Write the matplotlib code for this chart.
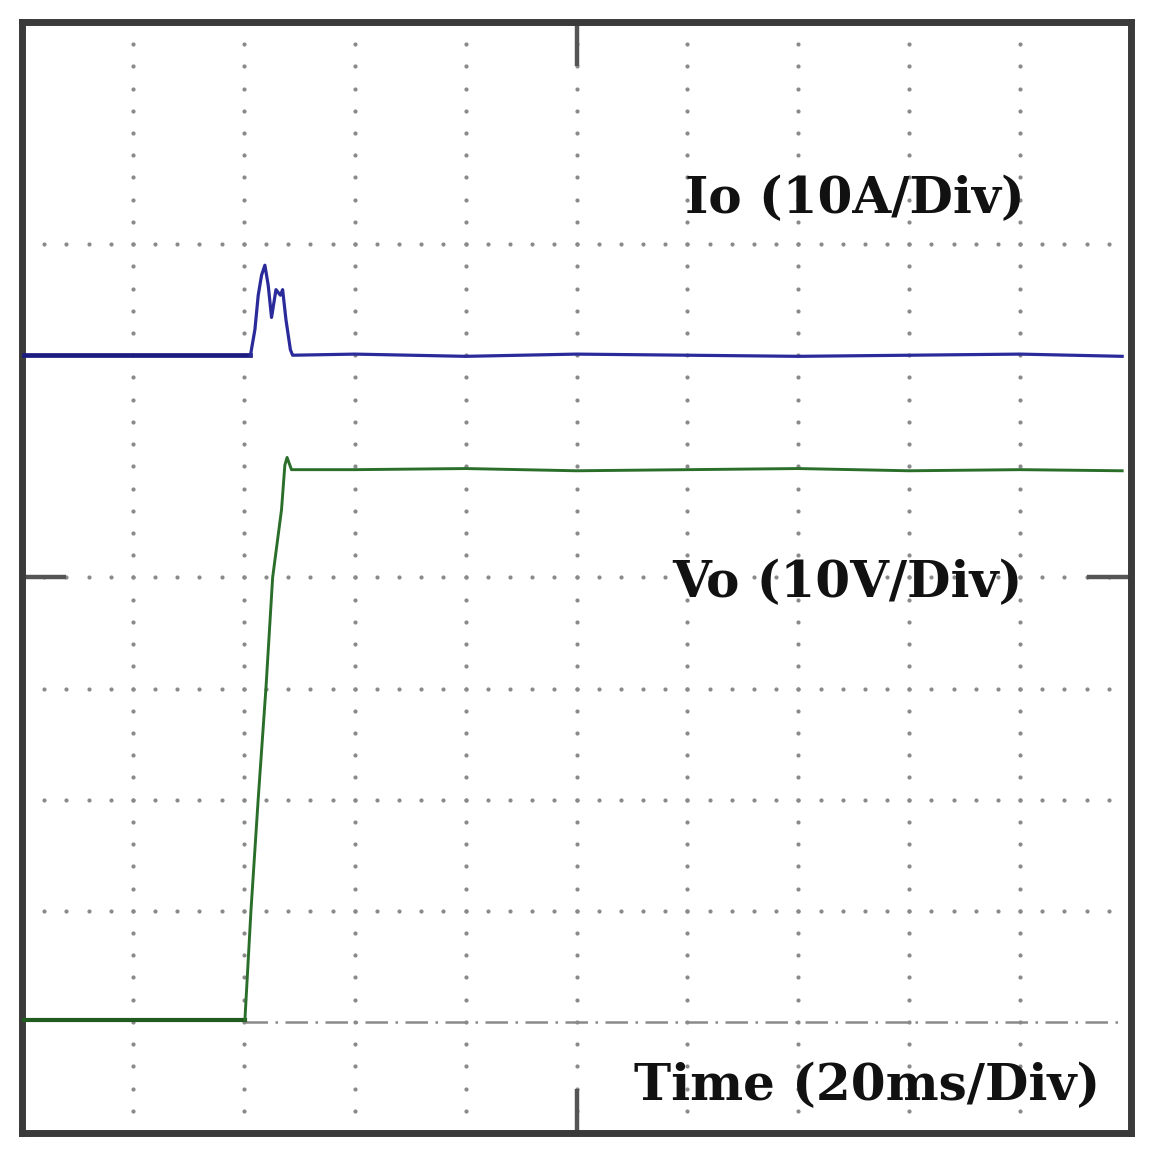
import numpy as np
import matplotlib.pyplot as plt

# screen is 10 x 10 divisions; values below are in divisions
io_t = [0.02, 2.06, 2.10, 2.13, 2.16, 2.19, 2.22, 2.25, 2.29, 2.33, 2.35, 2.38, 2.42, 2.44,
        3.0, 4.0, 5.0, 6.0, 7.0, 8.0, 9.0, 9.92]
io_v = [7.0, 7.0, 7.23, 7.54, 7.72, 7.81, 7.63, 7.34, 7.59, 7.54, 7.59, 7.32, 7.05, 7.0,
        7.01, 6.99, 7.01, 7.0, 6.99, 7.0, 7.01, 6.99]

vo_t = [0.02, 2.01, 2.065, 2.13, 2.20, 2.26, 2.34, 2.37, 2.39, 2.43,
        3.0, 4.0, 5.0, 6.0, 7.0, 8.0, 9.0, 9.92]
vo_v = [1.02, 1.02, 2.01, 3.01, 4.01, 5.0, 5.61, 6.01, 6.08, 5.97,
        5.97, 5.98, 5.96, 5.97, 5.98, 5.96, 5.97, 5.96]

ground_t = [2.01, 9.92]
ground_v = [1.0, 1.0]

labels = ["Io (10A/Div)", "Vo (10V/Div)", "Time (20ms/Div)"]
label_x = [9.04, 9.02, 9.72]
label_y = [8.28, 4.82, 0.30]

grid_cols = [1, 2, 3, 4, 5, 6, 7, 8, 9]
grid_rows = [8, 5, 4, 3, 2]

fig = plt.figure(figsize=(11.52, 11.52), dpi=100)
ax = fig.add_axes([0.0191, 0.0165, 0.9627, 0.9645])
ax.set_xlim(0, 10)
ax.set_ylim(0, 10)
ax.set_xticks([])
ax.set_yticks([])
for s in ax.spines.values():
    s.set_linewidth(5)
    s.set_color("#3a3a3a")

# dotted graticule
steps = np.arange(0.2, 10.0, 0.2)
for gx in grid_cols:
    ax.plot(np.full_like(steps, gx), steps, linestyle="none", marker="o",
            ms=3.0, color="#8a8a8a", mec="none", zorder=1)
for gy in grid_rows:
    ax.plot(steps, np.full_like(steps, gy), linestyle="none", marker="o",
            ms=3.0, color="#8a8a8a", mec="none", zorder=1)

# centre tick marks on the frame
tick_kw = dict(color="#555555", lw=3.2, solid_capstyle="butt", zorder=2)
ax.plot([5, 5], [10, 9.6], **tick_kw)
ax.plot([5, 5], [0, 0.4], **tick_kw)
ax.plot([0, 0.4], [5, 5], **tick_kw)
ax.plot([9.6, 10], [5, 5], **tick_kw)

# ground reference
ax.plot(ground_t, ground_v, color="#8a8a8a", lw=1.8, dashes=(9, 3, 1, 3), zorder=2)

# traces
ax.plot(io_t[:2], io_v[:2], color="#1c1c80", lw=3.4, zorder=4)
ax.plot(io_t[1:], io_v[1:], color="#2a2a9a", lw=2.3, zorder=4)
ax.plot(vo_t[:2], vo_v[:2], color="#1f5a1f", lw=3.0, zorder=4)
ax.plot(vo_t[1:], vo_v[1:], color="#2a6e2a", lw=2.1, zorder=4)

for txt, tx, ty in zip(labels, label_x, label_y):
    ax.text(tx, ty, txt, ha="right", va="baseline", fontsize=36,
            fontweight="bold", family="DejaVu Serif", color="#111111", zorder=5)

fig.savefig("out.png", dpi=100, facecolor="white")
